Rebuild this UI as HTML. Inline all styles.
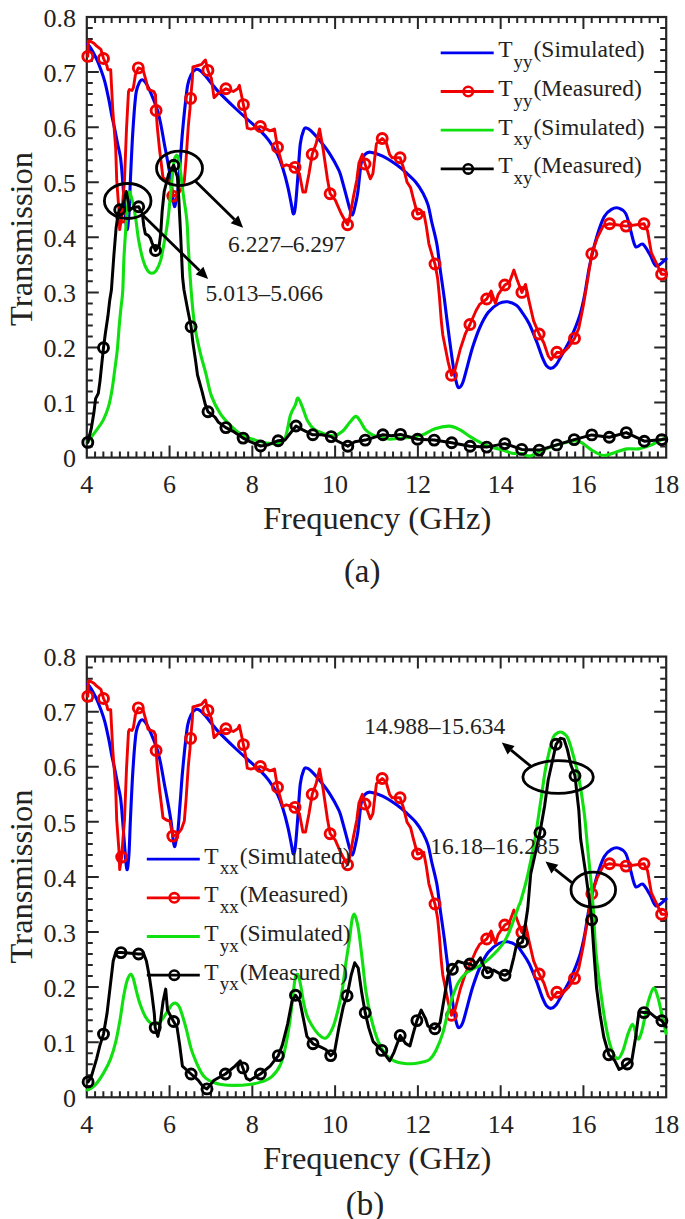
<!DOCTYPE html>
<html><head><meta charset="utf-8"><style>
html,body{margin:0;padding:0;background:#fff;}
svg{display:block;}
text{font-family:"Liberation Serif",serif;fill:#222;}
.tk{font-size:26px;}
.lab{font-size:32.5px;}
.lg{font-size:23.5px;}
.sb{font-size:19px;}
.an{font-size:23.5px;}
.cap{font-size:33px;}
</style></head><body>
<svg width="685" height="1219" viewBox="0 0 685 1219">
<rect width="685" height="1219" fill="#fff"/>
<rect x="86.8" y="17.0" width="579.4" height="440.6" fill="none" stroke="#262626" stroke-width="2.2"/>
<path d="M95.08 457.6v-6M95.08 17.0v6M103.35 457.6v-6M103.35 17.0v6M111.63 457.6v-6M111.63 17.0v6M119.91 457.6v-6M119.91 17.0v6M128.19 457.6v-6M128.19 17.0v6M136.46 457.6v-6M136.46 17.0v6M144.74 457.6v-6M144.74 17.0v6M153.02 457.6v-6M153.02 17.0v6M161.29 457.6v-6M161.29 17.0v6M169.57 457.6v-12M169.57 17.0v12M177.85 457.6v-6M177.85 17.0v6M186.13 457.6v-6M186.13 17.0v6M194.40 457.6v-6M194.40 17.0v6M202.68 457.6v-6M202.68 17.0v6M210.96 457.6v-6M210.96 17.0v6M219.23 457.6v-6M219.23 17.0v6M227.51 457.6v-6M227.51 17.0v6M235.79 457.6v-6M235.79 17.0v6M244.07 457.6v-6M244.07 17.0v6M252.34 457.6v-12M252.34 17.0v12M260.62 457.6v-6M260.62 17.0v6M268.90 457.6v-6M268.90 17.0v6M277.17 457.6v-6M277.17 17.0v6M285.45 457.6v-6M285.45 17.0v6M293.73 457.6v-6M293.73 17.0v6M302.01 457.6v-6M302.01 17.0v6M310.28 457.6v-6M310.28 17.0v6M318.56 457.6v-6M318.56 17.0v6M326.84 457.6v-6M326.84 17.0v6M335.11 457.6v-12M335.11 17.0v12M343.39 457.6v-6M343.39 17.0v6M351.67 457.6v-6M351.67 17.0v6M359.95 457.6v-6M359.95 17.0v6M368.22 457.6v-6M368.22 17.0v6M376.50 457.6v-6M376.50 17.0v6M384.78 457.6v-6M384.78 17.0v6M393.05 457.6v-6M393.05 17.0v6M401.33 457.6v-6M401.33 17.0v6M409.61 457.6v-6M409.61 17.0v6M417.89 457.6v-12M417.89 17.0v12M426.16 457.6v-6M426.16 17.0v6M434.44 457.6v-6M434.44 17.0v6M442.72 457.6v-6M442.72 17.0v6M450.99 457.6v-6M450.99 17.0v6M459.27 457.6v-6M459.27 17.0v6M467.55 457.6v-6M467.55 17.0v6M475.83 457.6v-6M475.83 17.0v6M484.10 457.6v-6M484.10 17.0v6M492.38 457.6v-6M492.38 17.0v6M500.66 457.6v-12M500.66 17.0v12M508.93 457.6v-6M508.93 17.0v6M517.21 457.6v-6M517.21 17.0v6M525.49 457.6v-6M525.49 17.0v6M533.77 457.6v-6M533.77 17.0v6M542.04 457.6v-6M542.04 17.0v6M550.32 457.6v-6M550.32 17.0v6M558.60 457.6v-6M558.60 17.0v6M566.87 457.6v-6M566.87 17.0v6M575.15 457.6v-6M575.15 17.0v6M583.43 457.6v-12M583.43 17.0v12M591.71 457.6v-6M591.71 17.0v6M599.98 457.6v-6M599.98 17.0v6M608.26 457.6v-6M608.26 17.0v6M616.54 457.6v-6M616.54 17.0v6M624.81 457.6v-6M624.81 17.0v6M633.09 457.6v-6M633.09 17.0v6M641.37 457.6v-6M641.37 17.0v6M649.65 457.6v-6M649.65 17.0v6M657.92 457.6v-6M657.92 17.0v6M86.8 446.59h6M666.2 446.59h-6M86.8 435.57h6M666.2 435.57h-6M86.8 424.56h6M666.2 424.56h-6M86.8 413.54h6M666.2 413.54h-6M86.8 402.53h12M666.2 402.53h-12M86.8 391.51h6M666.2 391.51h-6M86.8 380.50h6M666.2 380.50h-6M86.8 369.48h6M666.2 369.48h-6M86.8 358.47h6M666.2 358.47h-6M86.8 347.45h12M666.2 347.45h-12M86.8 336.44h6M666.2 336.44h-6M86.8 325.42h6M666.2 325.42h-6M86.8 314.41h6M666.2 314.41h-6M86.8 303.39h6M666.2 303.39h-6M86.8 292.38h12M666.2 292.38h-12M86.8 281.36h6M666.2 281.36h-6M86.8 270.35h6M666.2 270.35h-6M86.8 259.33h6M666.2 259.33h-6M86.8 248.32h6M666.2 248.32h-6M86.8 237.30h12M666.2 237.30h-12M86.8 226.29h6M666.2 226.29h-6M86.8 215.27h6M666.2 215.27h-6M86.8 204.26h6M666.2 204.26h-6M86.8 193.24h6M666.2 193.24h-6M86.8 182.23h12M666.2 182.23h-12M86.8 171.21h6M666.2 171.21h-6M86.8 160.19h6M666.2 160.19h-6M86.8 149.18h6M666.2 149.18h-6M86.8 138.17h6M666.2 138.17h-6M86.8 127.15h12M666.2 127.15h-12M86.8 116.13h6M666.2 116.13h-6M86.8 105.12h6M666.2 105.12h-6M86.8 94.10h6M666.2 94.10h-6M86.8 83.09h6M666.2 83.09h-6M86.8 72.07h12M666.2 72.07h-12M86.8 61.06h6M666.2 61.06h-6M86.8 50.05h6M666.2 50.05h-6M86.8 39.03h6M666.2 39.03h-6M86.8 28.02h6M666.2 28.02h-6" stroke="#262626" stroke-width="2" fill="none"/>
<text x="76" y="467.2" text-anchor="end" class="tk">0</text>
<text x="76" y="412.1" text-anchor="end" class="tk">0.1</text>
<text x="76" y="357.1" text-anchor="end" class="tk">0.2</text>
<text x="76" y="302.0" text-anchor="end" class="tk">0.3</text>
<text x="76" y="246.9" text-anchor="end" class="tk">0.4</text>
<text x="76" y="191.8" text-anchor="end" class="tk">0.5</text>
<text x="76" y="136.7" text-anchor="end" class="tk">0.6</text>
<text x="76" y="81.7" text-anchor="end" class="tk">0.7</text>
<text x="76" y="26.6" text-anchor="end" class="tk">0.8</text>
<text x="86.8" y="493.1" text-anchor="middle" class="tk">4</text>
<text x="169.6" y="493.1" text-anchor="middle" class="tk">6</text>
<text x="252.3" y="493.1" text-anchor="middle" class="tk">8</text>
<text x="335.1" y="493.1" text-anchor="middle" class="tk">10</text>
<text x="417.9" y="493.1" text-anchor="middle" class="tk">12</text>
<text x="500.7" y="493.1" text-anchor="middle" class="tk">14</text>
<text x="583.4" y="493.1" text-anchor="middle" class="tk">16</text>
<text x="666.2" y="493.1" text-anchor="middle" class="tk">18</text>
<text x="377.2" y="528.9" text-anchor="middle" class="lab">Frequency (GHz)</text>
<text transform="translate(31.5 238.9) rotate(-90)" x="0" y="0" text-anchor="middle" class="lab">Transmission</text>
<rect x="86.8" y="656.6" width="579.4" height="440.7" fill="none" stroke="#262626" stroke-width="2.2"/>
<path d="M95.08 1097.3v-6M95.08 656.6v6M103.35 1097.3v-6M103.35 656.6v6M111.63 1097.3v-6M111.63 656.6v6M119.91 1097.3v-6M119.91 656.6v6M128.19 1097.3v-6M128.19 656.6v6M136.46 1097.3v-6M136.46 656.6v6M144.74 1097.3v-6M144.74 656.6v6M153.02 1097.3v-6M153.02 656.6v6M161.29 1097.3v-6M161.29 656.6v6M169.57 1097.3v-12M169.57 656.6v12M177.85 1097.3v-6M177.85 656.6v6M186.13 1097.3v-6M186.13 656.6v6M194.40 1097.3v-6M194.40 656.6v6M202.68 1097.3v-6M202.68 656.6v6M210.96 1097.3v-6M210.96 656.6v6M219.23 1097.3v-6M219.23 656.6v6M227.51 1097.3v-6M227.51 656.6v6M235.79 1097.3v-6M235.79 656.6v6M244.07 1097.3v-6M244.07 656.6v6M252.34 1097.3v-12M252.34 656.6v12M260.62 1097.3v-6M260.62 656.6v6M268.90 1097.3v-6M268.90 656.6v6M277.17 1097.3v-6M277.17 656.6v6M285.45 1097.3v-6M285.45 656.6v6M293.73 1097.3v-6M293.73 656.6v6M302.01 1097.3v-6M302.01 656.6v6M310.28 1097.3v-6M310.28 656.6v6M318.56 1097.3v-6M318.56 656.6v6M326.84 1097.3v-6M326.84 656.6v6M335.11 1097.3v-12M335.11 656.6v12M343.39 1097.3v-6M343.39 656.6v6M351.67 1097.3v-6M351.67 656.6v6M359.95 1097.3v-6M359.95 656.6v6M368.22 1097.3v-6M368.22 656.6v6M376.50 1097.3v-6M376.50 656.6v6M384.78 1097.3v-6M384.78 656.6v6M393.05 1097.3v-6M393.05 656.6v6M401.33 1097.3v-6M401.33 656.6v6M409.61 1097.3v-6M409.61 656.6v6M417.89 1097.3v-12M417.89 656.6v12M426.16 1097.3v-6M426.16 656.6v6M434.44 1097.3v-6M434.44 656.6v6M442.72 1097.3v-6M442.72 656.6v6M450.99 1097.3v-6M450.99 656.6v6M459.27 1097.3v-6M459.27 656.6v6M467.55 1097.3v-6M467.55 656.6v6M475.83 1097.3v-6M475.83 656.6v6M484.10 1097.3v-6M484.10 656.6v6M492.38 1097.3v-6M492.38 656.6v6M500.66 1097.3v-12M500.66 656.6v12M508.93 1097.3v-6M508.93 656.6v6M517.21 1097.3v-6M517.21 656.6v6M525.49 1097.3v-6M525.49 656.6v6M533.77 1097.3v-6M533.77 656.6v6M542.04 1097.3v-6M542.04 656.6v6M550.32 1097.3v-6M550.32 656.6v6M558.60 1097.3v-6M558.60 656.6v6M566.87 1097.3v-6M566.87 656.6v6M575.15 1097.3v-6M575.15 656.6v6M583.43 1097.3v-12M583.43 656.6v12M591.71 1097.3v-6M591.71 656.6v6M599.98 1097.3v-6M599.98 656.6v6M608.26 1097.3v-6M608.26 656.6v6M616.54 1097.3v-6M616.54 656.6v6M624.81 1097.3v-6M624.81 656.6v6M633.09 1097.3v-6M633.09 656.6v6M641.37 1097.3v-6M641.37 656.6v6M649.65 1097.3v-6M649.65 656.6v6M657.92 1097.3v-6M657.92 656.6v6M86.8 1086.28h6M666.2 1086.28h-6M86.8 1075.26h6M666.2 1075.26h-6M86.8 1064.25h6M666.2 1064.25h-6M86.8 1053.23h6M666.2 1053.23h-6M86.8 1042.21h12M666.2 1042.21h-12M86.8 1031.19h6M666.2 1031.19h-6M86.8 1020.18h6M666.2 1020.18h-6M86.8 1009.16h6M666.2 1009.16h-6M86.8 998.14h6M666.2 998.14h-6M86.8 987.12h12M666.2 987.12h-12M86.8 976.11h6M666.2 976.11h-6M86.8 965.09h6M666.2 965.09h-6M86.8 954.07h6M666.2 954.07h-6M86.8 943.05h6M666.2 943.05h-6M86.8 932.04h12M666.2 932.04h-12M86.8 921.02h6M666.2 921.02h-6M86.8 910.00h6M666.2 910.00h-6M86.8 898.99h6M666.2 898.99h-6M86.8 887.97h6M666.2 887.97h-6M86.8 876.95h12M666.2 876.95h-12M86.8 865.93h6M666.2 865.93h-6M86.8 854.91h6M666.2 854.91h-6M86.8 843.90h6M666.2 843.90h-6M86.8 832.88h6M666.2 832.88h-6M86.8 821.86h12M666.2 821.86h-12M86.8 810.85h6M666.2 810.85h-6M86.8 799.83h6M666.2 799.83h-6M86.8 788.81h6M666.2 788.81h-6M86.8 777.79h6M666.2 777.79h-6M86.8 766.78h12M666.2 766.78h-12M86.8 755.76h6M666.2 755.76h-6M86.8 744.74h6M666.2 744.74h-6M86.8 733.72h6M666.2 733.72h-6M86.8 722.70h6M666.2 722.70h-6M86.8 711.69h12M666.2 711.69h-12M86.8 700.67h6M666.2 700.67h-6M86.8 689.65h6M666.2 689.65h-6M86.8 678.63h6M666.2 678.63h-6M86.8 667.62h6M666.2 667.62h-6" stroke="#262626" stroke-width="2" fill="none"/>
<text x="76" y="1106.9" text-anchor="end" class="tk">0</text>
<text x="76" y="1051.8" text-anchor="end" class="tk">0.1</text>
<text x="76" y="996.7" text-anchor="end" class="tk">0.2</text>
<text x="76" y="941.6" text-anchor="end" class="tk">0.3</text>
<text x="76" y="886.6" text-anchor="end" class="tk">0.4</text>
<text x="76" y="831.5" text-anchor="end" class="tk">0.5</text>
<text x="76" y="776.4" text-anchor="end" class="tk">0.6</text>
<text x="76" y="721.3" text-anchor="end" class="tk">0.7</text>
<text x="76" y="666.2" text-anchor="end" class="tk">0.8</text>
<text x="86.8" y="1132.8" text-anchor="middle" class="tk">4</text>
<text x="169.6" y="1132.8" text-anchor="middle" class="tk">6</text>
<text x="252.3" y="1132.8" text-anchor="middle" class="tk">8</text>
<text x="335.1" y="1132.8" text-anchor="middle" class="tk">10</text>
<text x="417.9" y="1132.8" text-anchor="middle" class="tk">12</text>
<text x="500.7" y="1132.8" text-anchor="middle" class="tk">14</text>
<text x="583.4" y="1132.8" text-anchor="middle" class="tk">16</text>
<text x="666.2" y="1132.8" text-anchor="middle" class="tk">18</text>
<text x="377.2" y="1168.6" text-anchor="middle" class="lab">Frequency (GHz)</text>
<text transform="translate(31.5 876.4) rotate(-90)" x="0" y="0" text-anchor="middle" class="lab">Transmission</text>
<path d="M87.5 44.0C87.8 44.3 88.3 44.6 89.2 45.9C90.1 47.2 91.7 49.6 93.0 52.0C94.3 54.4 95.7 57.0 97.0 60.0C98.3 63.0 99.6 66.2 100.9 69.8C102.2 73.4 103.5 76.8 104.8 81.7C106.1 86.6 107.6 93.8 108.8 99.4C110.0 105.0 110.7 110.2 111.7 115.1C112.7 120.0 113.7 124.1 114.7 128.9C115.7 133.7 116.6 138.8 117.6 143.7C118.6 148.6 119.8 152.3 120.6 158.4C121.4 164.5 121.9 171.4 122.6 180.0C123.3 188.6 124.2 201.7 124.9 210.0C125.6 218.3 126.2 228.8 126.9 229.6C127.6 230.4 128.3 223.3 128.9 215.0C129.5 206.7 129.8 192.7 130.4 180.0C131.0 167.3 131.7 150.5 132.4 138.7C133.1 126.9 133.8 117.1 134.4 109.2C135.1 101.3 135.5 95.9 136.3 91.5C137.1 87.1 138.3 84.6 139.3 82.6C140.3 80.6 141.1 79.7 142.2 79.7C143.2 79.7 144.5 81.2 145.6 82.7C146.7 84.2 147.7 86.0 149.0 88.8C150.3 91.6 151.9 95.5 153.4 99.3C154.9 103.1 156.6 107.5 157.8 111.6C159.0 115.7 159.7 118.7 160.7 123.7C161.7 128.8 163.1 136.7 164.0 141.9C164.9 147.1 165.2 148.2 166.4 154.7C167.6 161.2 169.9 173.4 171.0 181.0C172.1 188.6 172.6 195.7 173.2 200.0C173.8 204.3 174.0 206.4 174.5 206.6C175.0 206.8 175.4 203.6 176.0 201.0C176.6 198.4 177.2 197.5 177.9 191.0C178.6 184.5 179.4 171.8 180.2 162.0C181.0 152.2 181.6 141.8 182.5 132.0C183.4 122.2 184.5 110.8 185.4 103.0C186.3 95.2 186.8 89.7 187.7 85.0C188.6 80.3 189.8 77.4 191.1 74.8C192.4 72.2 194.0 70.3 195.5 69.6C197.0 68.9 198.2 69.2 199.9 70.4C201.7 71.6 203.1 73.2 206.0 76.6C208.9 80.0 212.7 85.4 217.5 90.6C222.3 95.8 229.2 102.5 235.0 108.0C240.8 113.5 248.4 120.2 252.6 123.9C256.8 127.7 257.3 127.8 260.0 130.5C262.7 133.2 265.9 136.3 268.8 140.3C271.7 144.3 275.2 149.6 277.5 154.3C279.8 159.0 281.1 162.8 282.8 168.3C284.6 173.9 286.6 181.5 288.0 187.6C289.4 193.7 290.6 200.7 291.5 205.1C292.4 209.5 292.7 213.6 293.3 213.9C293.9 214.2 294.6 212.8 295.3 207.0C296.0 201.2 296.9 189.3 297.7 178.8C298.5 168.3 299.3 152.0 300.3 143.8C301.3 135.6 302.8 132.4 303.8 129.8C304.8 127.2 305.2 127.9 306.4 128.0C307.6 128.2 308.6 128.6 310.8 130.7C313.0 132.8 316.4 136.4 319.6 140.3C322.8 144.2 326.9 149.3 330.1 154.3C333.3 159.3 336.8 165.8 338.8 170.1C340.8 174.4 340.8 175.7 342.0 180.0C343.2 184.3 345.0 191.0 346.3 195.8C347.6 200.6 348.8 205.7 349.8 208.9C350.8 212.1 351.5 215.4 352.4 215.0C353.3 214.6 354.1 210.0 355.0 206.3C355.9 202.7 357.0 197.8 357.7 193.1C358.4 188.4 358.8 183.3 359.4 178.0C360.0 172.7 360.6 165.2 361.5 161.3C362.4 157.4 363.5 155.8 365.0 154.3C366.5 152.8 367.4 151.9 370.3 152.2C373.2 152.5 378.2 154.0 382.6 156.1C387.0 158.2 392.5 161.9 396.6 164.8C400.7 167.7 403.9 170.7 407.1 173.6C410.3 176.5 413.2 179.1 415.8 182.3C418.4 185.5 420.8 189.1 422.9 192.9C424.9 196.7 426.7 200.4 428.1 205.1C429.5 209.8 430.1 214.6 431.5 221.0C432.9 227.4 435.3 235.6 436.8 243.8C438.3 252.0 439.0 260.7 440.3 270.1C441.6 279.5 443.1 289.2 444.5 300.0C445.9 310.8 447.4 323.9 448.9 335.0C450.4 346.1 452.0 358.4 453.3 366.6C454.6 374.8 455.8 380.6 456.8 384.1C457.8 387.6 458.4 387.9 459.4 387.6C460.4 387.3 461.6 385.8 462.9 382.3C464.2 378.8 465.7 372.4 467.3 366.6C468.9 360.8 470.6 353.7 472.6 347.3C474.7 340.9 477.0 333.8 479.6 328.0C482.2 322.2 485.1 316.4 488.3 312.3C491.5 308.2 495.6 305.2 498.8 303.5C502.0 301.8 504.7 301.5 507.6 301.8C510.5 302.1 514.0 303.6 516.4 305.3C518.8 307.0 519.8 309.0 521.9 312.1C524.0 315.2 526.8 318.9 529.2 323.8C531.6 328.7 534.3 335.7 536.5 341.3C538.7 346.9 540.6 353.3 542.3 357.4C544.0 361.5 545.2 364.3 546.7 366.1C548.2 367.9 549.5 368.5 551.1 368.3C552.7 368.1 554.5 366.8 556.2 364.7C557.9 362.6 559.2 359.5 561.3 355.9C563.4 352.2 566.4 347.2 568.6 342.8C570.8 338.4 572.5 334.5 574.5 329.6C576.5 324.7 578.6 319.4 580.3 313.6C582.0 307.8 583.1 302.8 584.7 294.6C586.3 286.5 587.7 274.5 589.8 264.7C591.9 254.9 594.7 243.8 597.1 235.8C599.5 227.8 601.9 220.9 604.3 216.5C606.7 212.1 609.1 210.7 611.5 209.3C613.9 207.9 616.3 207.3 618.7 208.1C621.1 208.9 624.0 210.3 626.0 214.1C628.0 217.9 629.2 225.6 630.8 231.0C632.4 236.4 633.6 244.4 635.6 246.6C637.6 248.8 640.4 242.8 642.8 244.2C645.2 245.6 647.9 251.4 650.1 255.0C652.3 258.6 653.5 265.2 656.1 265.9C658.8 266.6 664.4 260.1 666.0 259.0" fill="none" stroke="#0000f0" stroke-width="3.1" stroke-linejoin="round" stroke-linecap="round"/>
<polyline points="87.8,56.4 88.3,41.0 89.5,40.7 93.9,43.3 96.5,45.9 100.9,49.4 103.5,58.5 107.0,65.9 107.8,69.8 110.7,69.8 111.7,89.5 112.7,109.2 114.2,128.9 115.7,148.6 116.7,180.0 119.0,211.2 119.7,229.6 121.7,217.1 123.0,198.1 124.5,180.0 126.5,128.9 128.5,91.5 129.4,89.5 131.9,90.5 133.4,87.6 135.4,74.8 138.3,67.9 143.0,69.6 146.4,81.8 148.0,89.2 153.8,91.5 155.5,95.0 156.1,110.5 157.2,126.0 159.5,149.0 163.0,177.7 166.4,180.0 169.9,181.1 172.8,196.1 177.9,193.8 181.4,189.2 184.3,181.1 186.0,160.5 188.3,126.0 190.0,108.7 190.6,98.4 192.3,80.0 192.9,66.9 196.4,66.0 201.6,64.3 204.4,60.8 205.5,60.0 207.9,70.4 211.4,78.3 214.0,97.6 217.5,94.1 225.9,88.8 233.3,91.5 237.7,88.8 239.4,85.3 243.4,104.6 245.5,115.1 247.3,128.2 250.8,129.1 260.4,126.5 266.6,129.1 270.0,130.9 274.5,129.1 277.5,147.3 282.8,166.6 286.3,164.8 295.0,167.4 299.4,173.6 302.9,192.0 305.5,192.0 309.0,173.6 312.2,154.3 316.1,143.8 319.6,128.9 323.1,149.0 327.4,178.8 330.1,193.7 335.3,200.1 341.0,213.3 345.4,221.2 347.6,224.7 349.8,216.8 353.3,197.5 356.8,180.0 358.9,163.1 362.4,154.3 365.0,164.0 370.3,178.8 372.9,173.6 376.4,143.8 382.2,138.5 386.1,142.0 389.6,154.3 392.2,157.8 400.1,157.8 403.6,168.3 407.1,182.3 410.6,187.6 413.2,198.1 417.5,214.0 423.7,212.3 426.3,226.3 428.9,243.8 432.4,256.1 435.0,264.0 437.7,278.8 439.4,296.4 441.2,320.0 442.8,335.0 448.0,361.3 451.5,375.3 455.0,370.0 460.3,349.0 465.5,333.3 469.9,324.5 476.1,310.5 479.6,304.4 486.7,299.0 491.1,291.1 495.5,303.4 498.1,294.6 504.8,285.0 509.5,282.3 513.9,270.1 517.4,280.6 521.9,292.4 525.5,284.4 529.2,301.9 533.6,320.9 539.1,334.0 543.8,342.8 548.2,355.9 551.1,359.6 556.9,352.3 562.8,353.0 568.6,347.2 574.5,338.4 578.8,328.2 583.2,306.3 587.6,280.0 591.8,253.8 597.1,238.2 603.1,226.1 609.6,223.7 626.0,226.1 644.0,223.7 647.6,231.0 651.3,252.6 661.6,274.3 666.0,274.3" fill="none" stroke="#f00000" stroke-width="2.9" stroke-linejoin="round" stroke-linecap="round"/>
<circle cx="87.8" cy="56.4" r="5.0" fill="none" stroke="#f00000" stroke-width="2.9"/>
<circle cx="103.5" cy="58.5" r="5.0" fill="none" stroke="#f00000" stroke-width="2.9"/>
<circle cx="121.7" cy="217.1" r="5.0" fill="none" stroke="#f00000" stroke-width="2.9"/>
<circle cx="138.3" cy="67.9" r="5.0" fill="none" stroke="#f00000" stroke-width="2.9"/>
<circle cx="156.1" cy="110.5" r="5.0" fill="none" stroke="#f00000" stroke-width="2.9"/>
<circle cx="172.8" cy="196.1" r="5.0" fill="none" stroke="#f00000" stroke-width="2.9"/>
<circle cx="190.6" cy="98.4" r="5.0" fill="none" stroke="#f00000" stroke-width="2.9"/>
<circle cx="207.9" cy="70.4" r="5.0" fill="none" stroke="#f00000" stroke-width="2.9"/>
<circle cx="225.9" cy="88.8" r="5.0" fill="none" stroke="#f00000" stroke-width="2.9"/>
<circle cx="243.4" cy="104.6" r="5.0" fill="none" stroke="#f00000" stroke-width="2.9"/>
<circle cx="260.4" cy="126.5" r="5.0" fill="none" stroke="#f00000" stroke-width="2.9"/>
<circle cx="277.5" cy="147.3" r="5.0" fill="none" stroke="#f00000" stroke-width="2.9"/>
<circle cx="295.0" cy="167.4" r="5.0" fill="none" stroke="#f00000" stroke-width="2.9"/>
<circle cx="312.2" cy="154.3" r="5.0" fill="none" stroke="#f00000" stroke-width="2.9"/>
<circle cx="330.1" cy="193.7" r="5.0" fill="none" stroke="#f00000" stroke-width="2.9"/>
<circle cx="347.6" cy="224.7" r="5.0" fill="none" stroke="#f00000" stroke-width="2.9"/>
<circle cx="365.0" cy="164.0" r="5.0" fill="none" stroke="#f00000" stroke-width="2.9"/>
<circle cx="382.2" cy="138.5" r="5.0" fill="none" stroke="#f00000" stroke-width="2.9"/>
<circle cx="400.1" cy="157.8" r="5.0" fill="none" stroke="#f00000" stroke-width="2.9"/>
<circle cx="417.5" cy="214.0" r="5.0" fill="none" stroke="#f00000" stroke-width="2.9"/>
<circle cx="435.0" cy="264.0" r="5.0" fill="none" stroke="#f00000" stroke-width="2.9"/>
<circle cx="451.5" cy="375.3" r="5.0" fill="none" stroke="#f00000" stroke-width="2.9"/>
<circle cx="469.9" cy="324.5" r="5.0" fill="none" stroke="#f00000" stroke-width="2.9"/>
<circle cx="486.7" cy="299.0" r="5.0" fill="none" stroke="#f00000" stroke-width="2.9"/>
<circle cx="504.8" cy="285.0" r="5.0" fill="none" stroke="#f00000" stroke-width="2.9"/>
<circle cx="521.9" cy="292.4" r="5.0" fill="none" stroke="#f00000" stroke-width="2.9"/>
<circle cx="539.1" cy="334.0" r="5.0" fill="none" stroke="#f00000" stroke-width="2.9"/>
<circle cx="556.9" cy="352.3" r="5.0" fill="none" stroke="#f00000" stroke-width="2.9"/>
<circle cx="574.5" cy="338.4" r="5.0" fill="none" stroke="#f00000" stroke-width="2.9"/>
<circle cx="591.8" cy="253.8" r="5.0" fill="none" stroke="#f00000" stroke-width="2.9"/>
<circle cx="609.6" cy="223.7" r="5.0" fill="none" stroke="#f00000" stroke-width="2.9"/>
<circle cx="626.0" cy="226.1" r="5.0" fill="none" stroke="#f00000" stroke-width="2.9"/>
<circle cx="644.0" cy="223.7" r="5.0" fill="none" stroke="#f00000" stroke-width="2.9"/>
<circle cx="661.6" cy="274.3" r="5.0" fill="none" stroke="#f00000" stroke-width="2.9"/>
<path d="M87.5 442.0C87.7 441.8 87.1 442.7 88.6 440.7C90.1 438.7 94.0 433.7 96.5 430.2C99.0 426.7 101.5 423.7 103.5 419.6C105.5 415.5 107.3 410.9 108.8 405.6C110.3 400.4 111.3 394.2 112.3 388.1C113.3 382.0 114.0 375.5 114.9 368.8C115.8 362.1 116.8 355.1 117.5 347.8C118.2 340.5 118.7 331.7 119.3 325.0C119.9 318.3 120.4 313.3 121.0 307.5C121.6 301.7 122.3 298.8 122.8 290.0C123.3 281.2 123.4 267.8 124.1 255.0C124.8 242.2 126.2 223.7 127.0 213.4C127.8 203.1 128.5 195.9 129.2 193.0C129.9 190.1 130.3 193.8 131.0 196.0C131.7 198.2 132.8 202.2 133.6 206.1C134.4 210.0 134.9 213.4 135.8 219.2C136.7 225.0 137.6 234.3 138.8 241.1C140.0 247.9 141.7 255.2 143.1 260.1C144.5 265.0 146.0 268.1 147.5 270.3C149.0 272.5 150.4 273.2 151.9 273.2C153.4 273.2 154.8 272.5 156.3 270.3C157.8 268.1 159.2 265.5 160.7 260.1C162.1 254.8 163.8 245.0 165.0 238.2C166.2 231.4 167.0 227.2 168.0 219.2C169.0 211.2 170.1 199.0 171.0 190.0C171.9 181.0 172.8 170.5 173.5 165.0C174.2 159.5 174.7 158.2 175.4 156.8C176.2 155.4 177.1 154.2 178.0 156.8C178.9 159.4 179.7 166.2 180.6 172.5C181.5 178.8 182.3 186.5 183.3 194.4C184.3 202.3 186.0 211.0 186.8 220.0C187.7 229.0 187.7 236.7 188.4 248.4C189.1 260.1 190.1 277.2 191.1 290.0C192.1 302.8 193.1 314.8 194.6 325.0C196.1 335.2 198.0 343.1 199.9 351.3C201.8 359.5 204.1 366.6 206.0 374.1C207.9 381.6 209.1 389.5 211.5 396.1C213.9 402.7 217.1 408.7 220.3 413.6C223.5 418.6 227.3 422.3 230.8 425.8C234.3 429.3 237.8 432.4 241.3 434.6C244.8 436.8 248.6 437.8 251.8 439.0C255.0 440.2 257.7 440.9 260.6 441.6C263.5 442.3 266.4 443.1 269.3 443.4C272.2 443.7 275.5 444.3 278.1 443.4C280.7 442.5 283.1 442.8 285.1 438.1C287.2 433.4 288.7 420.8 290.4 415.3C292.1 409.8 294.1 407.9 295.3 405.0C296.6 402.1 296.7 397.7 297.9 398.0C299.1 398.3 300.7 403.0 302.3 406.8C303.9 410.6 305.5 417.0 307.5 420.8C309.5 424.6 311.6 427.4 314.5 429.6C317.4 431.8 321.8 433.0 325.0 434.0C328.2 435.0 330.9 436.1 333.8 435.7C336.7 435.2 340.0 433.5 342.6 431.3C345.2 429.1 347.4 425.1 349.6 422.6C351.8 420.1 353.9 416.7 355.7 416.4C357.4 416.1 358.5 418.6 360.1 420.8C361.7 423.0 363.3 427.3 365.3 429.6C367.3 431.9 369.7 433.5 372.3 434.8C374.9 436.1 378.2 436.7 381.1 437.4C384.0 438.1 387.0 439.0 389.9 439.2C392.8 439.4 395.2 438.6 398.6 438.3C402.0 438.0 406.5 438.0 410.5 437.4C414.5 436.8 418.7 436.2 422.8 434.8C426.9 433.4 430.6 430.1 435.0 428.7C439.4 427.2 444.9 426.0 449.0 426.1C453.1 426.2 456.1 427.9 459.6 429.6C463.1 431.4 466.6 434.4 470.1 436.6C473.6 438.8 477.1 440.9 480.6 442.7C484.1 444.4 487.6 445.9 491.1 447.1C494.6 448.3 498.1 448.7 501.6 449.7C505.1 450.7 508.8 452.5 512.1 453.2C515.5 453.9 518.7 453.1 521.7 453.6C524.7 454.1 526.8 456.4 529.9 456.0C533.0 455.6 536.7 452.8 540.4 451.2C544.1 449.6 548.1 448.0 552.0 446.6C555.9 445.2 559.8 444.1 563.7 443.1C567.6 442.1 572.3 440.7 575.4 440.7C578.5 440.7 579.7 441.5 582.4 443.1C585.1 444.7 588.3 448.0 591.8 450.1C595.3 452.2 599.5 455.1 603.4 455.5C607.3 455.9 611.2 453.5 615.1 452.4C619.0 451.3 622.9 449.5 626.8 448.9C630.7 448.3 634.6 449.5 638.5 448.9C642.4 448.3 646.3 446.9 650.2 445.4C654.1 443.8 659.2 440.8 661.8 439.6C664.4 438.4 665.3 438.3 666.0 438.0" fill="none" stroke="#10e010" stroke-width="3.1" stroke-linejoin="round" stroke-linecap="round"/>
<polyline points="87.8,442.4 91.3,428.4 93.9,412.6 95.6,398.6 98.3,393.4 100.0,381.1 101.8,363.6 103.5,347.8 105.3,333.8 107.9,316.3 109.7,300.5 111.4,290.0 113.9,255.0 116.1,228.0 118.2,213.4 119.7,209.7 123.4,203.2 126.3,191.5 128.5,203.2 129.2,210.5 132.8,207.6 138.7,206.8 142.3,213.4 143.9,226.5 145.3,233.8 148.2,235.3 150.4,238.2 151.9,242.6 155.5,250.5 159.2,245.5 160.7,233.8 162.1,211.9 164.2,191.5 168.6,174.0 173.7,165.2 177.4,176.9 178.8,198.8 180.4,230.0 182.6,277.6 184.0,290.0 187.6,309.3 191.1,326.8 192.9,342.6 195.5,360.1 197.5,375.0 201.9,390.8 205.4,404.8 208.0,411.8 215.0,417.1 218.5,422.3 225.9,427.6 232.6,431.1 243.1,438.1 250.1,441.6 260.6,446.0 267.6,445.1 278.1,440.7 285.1,439.9 296.0,426.0 302.3,429.6 312.8,434.8 321.5,434.8 331.2,436.6 337.3,441.0 347.8,446.2 354.8,441.8 365.3,440.1 374.1,437.4 382.9,434.8 391.6,435.7 400.5,434.4 417.5,439.2 434.2,440.1 451.7,442.7 470.1,446.2 486.7,447.1 504.8,443.6 521.7,449.4 539.2,450.1 556.7,444.9 574.2,439.6 591.8,434.9 609.3,437.2 626.3,432.6 644.3,441.2 661.8,439.6 666.0,439.0" fill="none" stroke="#000000" stroke-width="3.0" stroke-linejoin="round" stroke-linecap="round"/>
<circle cx="87.8" cy="442.4" r="5.0" fill="none" stroke="#000000" stroke-width="2.9"/>
<circle cx="103.5" cy="347.8" r="5.0" fill="none" stroke="#000000" stroke-width="2.9"/>
<circle cx="119.7" cy="209.7" r="5.0" fill="none" stroke="#000000" stroke-width="2.9"/>
<circle cx="138.7" cy="206.8" r="5.0" fill="none" stroke="#000000" stroke-width="2.9"/>
<circle cx="155.5" cy="250.5" r="5.0" fill="none" stroke="#000000" stroke-width="2.9"/>
<circle cx="173.7" cy="165.2" r="5.0" fill="none" stroke="#000000" stroke-width="2.9"/>
<circle cx="191.1" cy="326.8" r="5.0" fill="none" stroke="#000000" stroke-width="2.9"/>
<circle cx="208.0" cy="411.8" r="5.0" fill="none" stroke="#000000" stroke-width="2.9"/>
<circle cx="225.9" cy="427.6" r="5.0" fill="none" stroke="#000000" stroke-width="2.9"/>
<circle cx="243.1" cy="438.1" r="5.0" fill="none" stroke="#000000" stroke-width="2.9"/>
<circle cx="260.6" cy="446.0" r="5.0" fill="none" stroke="#000000" stroke-width="2.9"/>
<circle cx="278.1" cy="440.7" r="5.0" fill="none" stroke="#000000" stroke-width="2.9"/>
<circle cx="296.0" cy="426.0" r="5.0" fill="none" stroke="#000000" stroke-width="2.9"/>
<circle cx="312.8" cy="434.8" r="5.0" fill="none" stroke="#000000" stroke-width="2.9"/>
<circle cx="331.2" cy="436.6" r="5.0" fill="none" stroke="#000000" stroke-width="2.9"/>
<circle cx="347.8" cy="446.2" r="5.0" fill="none" stroke="#000000" stroke-width="2.9"/>
<circle cx="365.3" cy="440.1" r="5.0" fill="none" stroke="#000000" stroke-width="2.9"/>
<circle cx="382.9" cy="434.8" r="5.0" fill="none" stroke="#000000" stroke-width="2.9"/>
<circle cx="400.5" cy="434.4" r="5.0" fill="none" stroke="#000000" stroke-width="2.9"/>
<circle cx="417.5" cy="439.2" r="5.0" fill="none" stroke="#000000" stroke-width="2.9"/>
<circle cx="434.2" cy="440.1" r="5.0" fill="none" stroke="#000000" stroke-width="2.9"/>
<circle cx="451.7" cy="442.7" r="5.0" fill="none" stroke="#000000" stroke-width="2.9"/>
<circle cx="470.1" cy="446.2" r="5.0" fill="none" stroke="#000000" stroke-width="2.9"/>
<circle cx="486.7" cy="447.1" r="5.0" fill="none" stroke="#000000" stroke-width="2.9"/>
<circle cx="504.8" cy="443.6" r="5.0" fill="none" stroke="#000000" stroke-width="2.9"/>
<circle cx="521.7" cy="449.4" r="5.0" fill="none" stroke="#000000" stroke-width="2.9"/>
<circle cx="539.2" cy="450.1" r="5.0" fill="none" stroke="#000000" stroke-width="2.9"/>
<circle cx="556.7" cy="444.9" r="5.0" fill="none" stroke="#000000" stroke-width="2.9"/>
<circle cx="574.2" cy="439.6" r="5.0" fill="none" stroke="#000000" stroke-width="2.9"/>
<circle cx="591.8" cy="434.9" r="5.0" fill="none" stroke="#000000" stroke-width="2.9"/>
<circle cx="609.3" cy="437.2" r="5.0" fill="none" stroke="#000000" stroke-width="2.9"/>
<circle cx="626.3" cy="432.6" r="5.0" fill="none" stroke="#000000" stroke-width="2.9"/>
<circle cx="644.3" cy="441.2" r="5.0" fill="none" stroke="#000000" stroke-width="2.9"/>
<circle cx="661.8" cy="439.6" r="5.0" fill="none" stroke="#000000" stroke-width="2.9"/>
<path d="M87.5 684.0C87.8 684.3 88.3 684.6 89.2 685.9C90.1 687.2 91.7 689.6 93.0 692.0C94.3 694.4 95.7 697.0 97.0 700.0C98.3 703.0 99.6 706.2 100.9 709.8C102.2 713.4 103.5 716.8 104.8 721.7C106.1 726.6 107.6 733.8 108.8 739.4C110.0 745.0 110.7 750.2 111.7 755.1C112.7 760.0 113.7 764.1 114.7 768.9C115.7 773.7 116.6 778.8 117.6 783.7C118.6 788.6 119.8 792.4 120.6 798.4C121.4 804.4 121.9 811.4 122.6 820.0C123.3 828.6 124.2 841.7 124.9 850.0C125.6 858.3 126.2 868.8 126.9 869.6C127.6 870.4 128.3 863.3 128.9 855.0C129.5 846.7 129.8 832.7 130.4 820.0C131.0 807.3 131.7 790.5 132.4 778.7C133.1 766.9 133.8 757.1 134.4 749.2C135.1 741.3 135.5 735.9 136.3 731.5C137.1 727.1 138.3 724.6 139.3 722.6C140.3 720.6 141.1 719.7 142.2 719.7C143.2 719.7 144.5 721.2 145.6 722.7C146.7 724.2 147.7 726.0 149.0 728.8C150.3 731.6 151.9 735.5 153.4 739.3C154.9 743.1 156.6 747.5 157.8 751.6C159.0 755.7 159.7 758.7 160.7 763.7C161.7 768.8 163.1 776.7 164.0 781.9C164.9 787.1 165.2 788.2 166.4 794.7C167.6 801.2 169.9 813.5 171.0 821.0C172.1 828.5 172.6 835.7 173.2 840.0C173.8 844.3 174.0 846.4 174.5 846.6C175.0 846.8 175.4 843.6 176.0 841.0C176.6 838.4 177.2 837.5 177.9 831.0C178.6 824.5 179.4 811.8 180.2 802.0C181.0 792.2 181.6 781.8 182.5 772.0C183.4 762.2 184.5 750.8 185.4 743.0C186.3 735.2 186.8 729.7 187.7 725.0C188.6 720.3 189.8 717.4 191.1 714.8C192.4 712.2 194.0 710.3 195.5 709.6C197.0 708.9 198.2 709.2 199.9 710.4C201.7 711.6 203.1 713.2 206.0 716.6C208.9 720.0 212.7 725.4 217.5 730.6C222.3 735.8 229.2 742.5 235.0 748.0C240.8 753.5 248.4 760.1 252.6 763.9C256.8 767.6 257.3 767.8 260.0 770.5C262.7 773.2 265.9 776.3 268.8 780.3C271.7 784.3 275.2 789.6 277.5 794.3C279.8 799.0 281.1 802.8 282.8 808.3C284.6 813.8 286.6 821.5 288.0 827.6C289.4 833.7 290.6 840.7 291.5 845.1C292.4 849.5 292.7 853.6 293.3 853.9C293.9 854.2 294.6 852.9 295.3 847.0C296.0 841.1 296.9 829.3 297.7 818.8C298.5 808.3 299.3 792.0 300.3 783.8C301.3 775.6 302.8 772.4 303.8 769.8C304.8 767.2 305.2 767.9 306.4 768.0C307.6 768.1 308.6 768.7 310.8 770.7C313.0 772.8 316.4 776.4 319.6 780.3C322.8 784.2 326.9 789.3 330.1 794.3C333.3 799.3 336.8 805.8 338.8 810.1C340.8 814.4 340.8 815.7 342.0 820.0C343.2 824.3 345.0 831.0 346.3 835.8C347.6 840.6 348.8 845.7 349.8 848.9C350.8 852.1 351.5 855.4 352.4 855.0C353.3 854.6 354.1 849.9 355.0 846.3C355.9 842.6 357.0 837.8 357.7 833.1C358.4 828.4 358.8 823.3 359.4 818.0C360.0 812.7 360.6 805.2 361.5 801.3C362.4 797.3 363.5 795.8 365.0 794.3C366.5 792.8 367.4 791.9 370.3 792.2C373.2 792.5 378.2 794.0 382.6 796.1C387.0 798.2 392.5 801.9 396.6 804.8C400.7 807.7 403.9 810.7 407.1 813.6C410.3 816.5 413.2 819.1 415.8 822.3C418.4 825.5 420.8 829.1 422.9 832.9C424.9 836.7 426.7 840.4 428.1 845.1C429.5 849.8 430.1 854.5 431.5 861.0C432.9 867.5 435.3 875.6 436.8 883.8C438.3 892.0 439.0 900.7 440.3 910.1C441.6 919.5 443.1 929.2 444.5 940.0C445.9 950.8 447.4 963.9 448.9 975.0C450.4 986.1 452.0 998.4 453.3 1006.6C454.6 1014.8 455.8 1020.6 456.8 1024.1C457.8 1027.6 458.4 1027.9 459.4 1027.6C460.4 1027.3 461.6 1025.8 462.9 1022.3C464.2 1018.8 465.7 1012.4 467.3 1006.6C468.9 1000.8 470.6 993.7 472.6 987.3C474.7 980.9 477.0 973.8 479.6 968.0C482.2 962.2 485.1 956.4 488.3 952.3C491.5 948.2 495.6 945.2 498.8 943.5C502.0 941.8 504.7 941.5 507.6 941.8C510.5 942.1 514.0 943.6 516.4 945.3C518.8 947.0 519.8 949.0 521.9 952.1C524.0 955.2 526.8 958.9 529.2 963.8C531.6 968.7 534.3 975.7 536.5 981.3C538.7 986.9 540.6 993.3 542.3 997.4C544.0 1001.5 545.2 1004.3 546.7 1006.1C548.2 1007.9 549.5 1008.5 551.1 1008.3C552.7 1008.1 554.5 1006.8 556.2 1004.7C557.9 1002.6 559.2 999.5 561.3 995.9C563.4 992.2 566.4 987.2 568.6 982.8C570.8 978.4 572.5 974.5 574.5 969.6C576.5 964.7 578.6 959.4 580.3 953.6C582.0 947.8 583.1 942.8 584.7 934.6C586.3 926.5 587.7 914.5 589.8 904.7C591.9 894.9 594.7 883.8 597.1 875.8C599.5 867.8 601.9 860.9 604.3 856.5C606.7 852.1 609.1 850.7 611.5 849.3C613.9 847.9 616.3 847.3 618.7 848.1C621.1 848.9 624.0 850.3 626.0 854.1C628.0 857.9 629.2 865.6 630.8 871.0C632.4 876.4 633.6 884.4 635.6 886.6C637.6 888.8 640.4 882.8 642.8 884.2C645.2 885.6 647.9 891.4 650.1 895.0C652.3 898.6 653.5 905.2 656.1 905.9C658.8 906.6 664.4 900.1 666.0 899.0" fill="none" stroke="#0000f0" stroke-width="3.1" stroke-linejoin="round" stroke-linecap="round"/>
<polyline points="87.8,696.4 88.3,681.0 89.5,680.7 93.9,683.3 96.5,685.9 100.9,689.4 103.5,698.5 107.0,705.9 107.8,709.8 110.7,709.8 111.7,729.5 112.7,749.2 114.2,768.9 115.7,788.6 116.7,820.0 119.0,851.2 119.7,869.6 121.7,857.1 123.0,838.1 124.5,820.0 126.5,768.9 128.5,731.5 129.4,729.5 131.9,730.5 133.4,727.6 135.4,714.8 138.3,707.9 143.0,709.6 146.4,721.8 148.0,729.2 153.8,731.5 155.5,735.0 156.1,750.5 157.2,766.0 159.5,789.0 163.0,817.7 166.4,820.0 169.9,821.1 172.8,836.1 177.9,833.8 181.4,829.2 184.3,821.1 186.0,800.5 188.3,766.0 190.0,748.7 190.6,738.4 192.3,720.0 192.9,706.9 196.4,706.0 201.6,704.3 204.4,700.8 205.5,700.0 207.9,710.4 211.4,718.3 214.0,737.6 217.5,734.1 225.9,728.8 233.3,731.5 237.7,728.8 239.4,725.3 243.4,744.6 245.5,755.1 247.3,768.2 250.8,769.1 260.4,766.5 266.6,769.1 270.0,770.9 274.5,769.1 277.5,787.3 282.8,806.6 286.3,804.8 295.0,807.4 299.4,813.6 302.9,832.0 305.5,832.0 309.0,813.6 312.2,794.3 316.1,783.8 319.6,768.9 323.1,789.0 327.4,818.8 330.1,833.7 335.3,840.1 341.0,853.3 345.4,861.2 347.6,864.7 349.8,856.8 353.3,837.5 356.8,820.0 358.9,803.1 362.4,794.3 365.0,804.0 370.3,818.8 372.9,813.6 376.4,783.8 382.2,778.5 386.1,782.0 389.6,794.3 392.2,797.8 400.1,797.8 403.6,808.3 407.1,822.3 410.6,827.6 413.2,838.1 417.5,854.0 423.7,852.3 426.3,866.3 428.9,883.8 432.4,896.1 435.0,904.0 437.7,918.8 439.4,936.4 441.2,960.0 442.8,975.0 448.0,1001.3 451.5,1015.3 455.0,1010.0 460.3,989.0 465.5,973.3 469.9,964.5 476.1,950.5 479.6,944.4 486.7,939.0 491.1,931.1 495.5,943.4 498.1,934.6 504.8,925.0 509.5,922.3 513.9,910.1 517.4,920.6 521.9,932.4 525.5,924.4 529.2,941.9 533.6,960.9 539.1,974.0 543.8,982.8 548.2,995.9 551.1,999.6 556.9,992.3 562.8,993.0 568.6,987.2 574.5,978.4 578.8,968.2 583.2,946.3 587.6,920.0 591.8,893.8 597.1,878.2 603.1,866.1 609.6,863.7 626.0,866.1 644.0,863.7 647.6,871.0 651.3,892.6 661.6,914.3 666.0,914.3" fill="none" stroke="#f00000" stroke-width="2.9" stroke-linejoin="round" stroke-linecap="round"/>
<circle cx="87.8" cy="696.4" r="5.0" fill="none" stroke="#f00000" stroke-width="2.9"/>
<circle cx="103.5" cy="698.5" r="5.0" fill="none" stroke="#f00000" stroke-width="2.9"/>
<circle cx="121.7" cy="857.1" r="5.0" fill="none" stroke="#f00000" stroke-width="2.9"/>
<circle cx="138.3" cy="707.9" r="5.0" fill="none" stroke="#f00000" stroke-width="2.9"/>
<circle cx="156.1" cy="750.5" r="5.0" fill="none" stroke="#f00000" stroke-width="2.9"/>
<circle cx="172.8" cy="836.1" r="5.0" fill="none" stroke="#f00000" stroke-width="2.9"/>
<circle cx="190.6" cy="738.4" r="5.0" fill="none" stroke="#f00000" stroke-width="2.9"/>
<circle cx="207.9" cy="710.4" r="5.0" fill="none" stroke="#f00000" stroke-width="2.9"/>
<circle cx="225.9" cy="728.8" r="5.0" fill="none" stroke="#f00000" stroke-width="2.9"/>
<circle cx="243.4" cy="744.6" r="5.0" fill="none" stroke="#f00000" stroke-width="2.9"/>
<circle cx="260.4" cy="766.5" r="5.0" fill="none" stroke="#f00000" stroke-width="2.9"/>
<circle cx="277.5" cy="787.3" r="5.0" fill="none" stroke="#f00000" stroke-width="2.9"/>
<circle cx="295.0" cy="807.4" r="5.0" fill="none" stroke="#f00000" stroke-width="2.9"/>
<circle cx="312.2" cy="794.3" r="5.0" fill="none" stroke="#f00000" stroke-width="2.9"/>
<circle cx="330.1" cy="833.7" r="5.0" fill="none" stroke="#f00000" stroke-width="2.9"/>
<circle cx="347.6" cy="864.7" r="5.0" fill="none" stroke="#f00000" stroke-width="2.9"/>
<circle cx="365.0" cy="804.0" r="5.0" fill="none" stroke="#f00000" stroke-width="2.9"/>
<circle cx="382.2" cy="778.5" r="5.0" fill="none" stroke="#f00000" stroke-width="2.9"/>
<circle cx="400.1" cy="797.8" r="5.0" fill="none" stroke="#f00000" stroke-width="2.9"/>
<circle cx="417.5" cy="854.0" r="5.0" fill="none" stroke="#f00000" stroke-width="2.9"/>
<circle cx="435.0" cy="904.0" r="5.0" fill="none" stroke="#f00000" stroke-width="2.9"/>
<circle cx="451.5" cy="1015.3" r="5.0" fill="none" stroke="#f00000" stroke-width="2.9"/>
<circle cx="469.9" cy="964.5" r="5.0" fill="none" stroke="#f00000" stroke-width="2.9"/>
<circle cx="486.7" cy="939.0" r="5.0" fill="none" stroke="#f00000" stroke-width="2.9"/>
<circle cx="504.8" cy="925.0" r="5.0" fill="none" stroke="#f00000" stroke-width="2.9"/>
<circle cx="521.9" cy="932.4" r="5.0" fill="none" stroke="#f00000" stroke-width="2.9"/>
<circle cx="539.1" cy="974.0" r="5.0" fill="none" stroke="#f00000" stroke-width="2.9"/>
<circle cx="556.9" cy="992.3" r="5.0" fill="none" stroke="#f00000" stroke-width="2.9"/>
<circle cx="574.5" cy="978.4" r="5.0" fill="none" stroke="#f00000" stroke-width="2.9"/>
<circle cx="591.8" cy="893.8" r="5.0" fill="none" stroke="#f00000" stroke-width="2.9"/>
<circle cx="609.6" cy="863.7" r="5.0" fill="none" stroke="#f00000" stroke-width="2.9"/>
<circle cx="626.0" cy="866.1" r="5.0" fill="none" stroke="#f00000" stroke-width="2.9"/>
<circle cx="644.0" cy="863.7" r="5.0" fill="none" stroke="#f00000" stroke-width="2.9"/>
<circle cx="661.6" cy="914.3" r="5.0" fill="none" stroke="#f00000" stroke-width="2.9"/>
<path d="M87.5 1090.0C88.7 1089.2 92.1 1088.2 94.8 1085.4C97.5 1082.6 100.9 1077.5 103.5 1073.1C106.1 1068.7 108.5 1064.3 110.5 1059.1C112.5 1053.8 114.2 1048.3 115.8 1041.6C117.4 1034.9 118.9 1026.4 120.2 1018.8C121.5 1011.2 122.5 1002.4 123.7 996.0C124.9 989.6 126.0 983.9 127.2 980.3C128.4 976.7 129.7 974.5 130.7 974.2C131.7 973.9 132.3 975.4 133.3 978.5C134.3 981.6 135.6 988.2 136.8 992.6C138.0 997.0 138.8 1000.7 140.3 1004.8C141.8 1008.9 143.8 1014.0 145.6 1017.1C147.3 1020.2 149.1 1022.0 150.8 1023.2C152.6 1024.4 154.3 1024.5 156.1 1024.1C157.8 1023.7 159.3 1022.9 161.3 1020.6C163.3 1018.3 166.5 1012.8 168.3 1010.1C170.1 1007.4 170.8 1005.7 172.0 1004.5C173.2 1003.3 174.3 1003.0 175.3 1003.1C176.3 1003.2 177.1 1003.8 178.0 1005.0C178.9 1006.2 179.3 1006.3 180.6 1010.1C181.9 1013.9 184.2 1021.2 185.9 1027.6C187.7 1034.0 189.3 1042.8 191.1 1048.6C192.8 1054.4 194.7 1058.5 196.4 1062.6C198.2 1066.7 200.0 1070.5 201.6 1073.1C203.2 1075.7 204.2 1076.9 206.0 1078.4C207.8 1079.9 209.8 1080.9 212.3 1081.9C214.8 1082.9 217.2 1083.9 221.0 1084.5C224.8 1085.1 230.3 1085.4 235.0 1085.4C239.7 1085.4 244.7 1085.1 249.1 1084.5C253.5 1083.9 257.5 1083.2 261.3 1081.9C265.1 1080.6 268.6 1079.5 271.8 1076.6C275.0 1073.7 278.3 1069.7 280.6 1064.4C282.9 1059.2 284.2 1052.7 285.8 1045.1C287.4 1037.5 288.9 1028.1 290.2 1018.8C291.5 1009.5 292.8 996.1 293.7 989.1C294.6 982.1 294.8 979.1 295.5 976.8C296.2 974.4 297.2 973.5 298.1 975.0C299.0 976.5 299.8 981.1 300.7 985.5C301.6 989.9 302.4 996.3 303.4 1001.3C304.4 1006.3 305.4 1011.2 306.9 1015.3C308.3 1019.4 310.1 1022.6 312.1 1025.8C314.1 1029.0 316.5 1032.5 318.8 1034.6C321.1 1036.6 323.5 1039.3 325.8 1038.1C328.1 1036.9 330.8 1032.3 332.8 1027.6C334.8 1022.9 336.4 1016.5 338.0 1010.1C339.6 1003.7 341.1 997.0 342.4 989.1C343.7 981.2 344.7 971.0 345.9 962.8C347.1 954.6 348.4 947.1 349.4 940.0C350.4 932.9 351.2 924.3 352.0 920.0C352.8 915.7 353.4 914.0 354.2 914.0C354.9 914.0 355.8 917.3 356.5 920.0C357.2 922.7 357.6 923.3 358.6 930.0C359.6 936.7 361.1 949.6 362.3 960.0C363.6 970.4 364.6 982.8 366.1 992.6C367.6 1002.4 369.3 1010.6 371.3 1018.8C373.3 1027.0 376.0 1035.8 378.3 1041.6C380.6 1047.4 382.7 1050.7 385.3 1053.9C387.9 1057.1 390.9 1059.3 394.1 1060.9C397.3 1062.5 401.1 1063.1 404.6 1063.5C408.1 1063.9 411.9 1063.8 415.1 1063.5C418.3 1063.2 421.4 1062.5 423.9 1061.8C426.4 1061.1 428.0 1060.9 430.0 1059.1C432.0 1057.2 433.7 1055.0 435.8 1050.7C437.9 1046.4 440.8 1039.5 442.8 1033.1C444.8 1026.7 446.2 1018.5 448.0 1012.1C449.8 1005.7 451.6 999.6 453.3 994.6C455.1 989.6 456.5 985.8 458.5 982.3C460.5 978.8 463.1 975.8 465.5 973.6C467.9 971.4 470.0 970.7 472.6 969.2C475.2 967.7 478.4 966.7 481.3 964.8C484.2 962.9 487.5 960.1 490.1 957.8C492.7 955.5 494.8 953.4 497.1 950.8C499.4 948.2 502.1 945.2 504.1 942.0C506.2 938.8 507.6 935.6 509.4 931.5C511.1 927.4 513.0 921.9 514.6 917.5C516.2 913.1 517.9 908.2 519.0 905.3C520.1 902.4 519.5 905.4 521.0 900.2C522.5 895.0 525.7 884.1 528.0 873.9C530.3 863.7 533.0 850.1 535.0 838.8C537.0 827.5 538.4 816.6 540.0 806.0C541.6 795.4 543.3 782.6 544.5 775.0C545.7 767.4 545.9 766.1 547.3 760.1C548.6 754.1 551.1 743.5 552.6 739.1C554.1 734.8 554.7 735.2 556.0 734.0C557.3 732.8 559.0 732.0 560.4 732.0C561.8 732.0 563.2 732.8 564.5 734.0C565.8 735.2 566.8 735.3 568.3 739.1C569.8 742.9 571.9 750.2 573.6 756.6C575.4 763.0 577.0 768.4 578.8 777.6C580.5 786.8 582.6 800.3 584.1 812.0C585.6 823.7 586.4 835.8 587.6 847.6C588.8 859.4 590.1 871.9 591.1 882.6C592.1 893.3 592.7 900.8 593.5 912.0C594.3 923.2 594.6 937.3 595.7 950.0C596.8 962.7 598.6 975.9 600.2 988.3C601.9 1000.7 603.8 1014.5 605.6 1024.4C607.4 1034.3 609.0 1042.1 611.0 1047.8C613.0 1053.5 615.3 1058.0 617.3 1058.6C619.2 1059.2 620.9 1055.6 622.7 1051.4C624.5 1047.2 626.5 1037.9 628.2 1033.4C629.9 1028.9 631.4 1024.1 632.7 1024.4C634.1 1024.7 635.2 1032.8 636.3 1035.2C637.3 1037.6 638.0 1040.0 639.0 1038.8C640.0 1037.6 641.1 1034.0 642.6 1028.0C644.1 1022.0 646.2 1009.3 648.0 1002.7C649.8 996.1 651.8 989.2 653.4 988.3C655.0 987.4 656.4 992.5 657.9 997.3C659.4 1002.1 661.0 1011.1 662.4 1017.1C663.8 1023.1 665.4 1030.7 666.0 1033.4" fill="none" stroke="#10e010" stroke-width="3.1" stroke-linejoin="round" stroke-linecap="round"/>
<polyline points="88.1,1081.9 91.3,1076.6 96.5,1059.1 100.0,1045.1 103.5,1034.1 107.0,1013.6 110.5,983.8 113.2,961.0 115.8,952.3 121.0,952.6 128.0,953.1 138.6,954.0 143.8,954.0 146.4,961.0 149.1,975.0 151.7,992.6 154.3,1013.6 155.2,1027.6 157.8,1036.4 159.6,1027.6 163.1,1001.3 165.7,989.1 167.5,1010.1 173.6,1021.5 177.1,1027.6 179.7,1045.1 182.4,1066.1 191.1,1074.0 198.1,1080.2 203.4,1087.2 207.0,1088.9 214.0,1080.2 225.4,1074.0 235.0,1066.1 240.3,1060.9 242.9,1067.9 246.4,1078.4 249.9,1080.2 260.4,1074.0 270.1,1066.1 278.3,1055.6 282.3,1045.1 287.6,1024.1 292.0,1001.3 295.5,995.2 299.9,1001.3 303.4,1018.8 306.9,1036.4 313.0,1043.8 320.5,1046.9 325.8,1049.5 330.7,1055.6 334.5,1052.1 338.9,1027.6 343.3,1006.6 347.1,995.7 351.2,975.0 354.7,962.8 358.2,968.0 361.7,992.6 365.2,1012.7 368.7,1027.6 373.1,1041.6 381.8,1050.4 389.7,1060.9 394.1,1052.1 400.2,1035.5 405.5,1043.4 409.9,1046.0 413.4,1032.9 416.9,1020.6 421.2,1010.1 425.6,1018.8 427.9,1026.1 434.9,1028.8 440.1,1022.6 444.5,996.4 448.0,975.3 452.4,969.2 457.7,961.3 463.8,963.1 469.9,964.0 474.3,966.6 477.8,961.3 480.4,957.8 483.1,964.8 487.4,972.7 493.6,970.1 499.7,973.6 505.0,975.3 510.2,971.8 513.7,957.8 516.4,945.5 522.5,942.0 525.1,926.3 527.7,908.8 530.7,873.9 539.9,832.7 544.6,806.0 548.2,780.0 552.6,760.1 556.1,744.3 560.4,738.2 564.0,739.1 567.4,749.6 571.0,765.3 575.0,775.8 577.1,795.1 578.8,810.0 580.6,838.8 585.8,873.9 589.3,900.2 591.7,919.7 593.9,952.2 596.6,988.3 600.2,1015.3 603.8,1037.0 608.8,1054.7 614.6,1060.4 619.1,1069.5 622.7,1067.7 627.3,1064.0 631.8,1060.4 635.4,1038.8 639.0,1011.7 644.0,1012.6 649.8,1012.6 655.2,1017.1 661.9,1020.7 666.0,1027.0" fill="none" stroke="#000000" stroke-width="3.0" stroke-linejoin="round" stroke-linecap="round"/>
<circle cx="88.1" cy="1081.9" r="5.0" fill="none" stroke="#000000" stroke-width="2.9"/>
<circle cx="103.5" cy="1034.1" r="5.0" fill="none" stroke="#000000" stroke-width="2.9"/>
<circle cx="121.0" cy="952.6" r="5.0" fill="none" stroke="#000000" stroke-width="2.9"/>
<circle cx="138.6" cy="954.0" r="5.0" fill="none" stroke="#000000" stroke-width="2.9"/>
<circle cx="155.2" cy="1027.6" r="5.0" fill="none" stroke="#000000" stroke-width="2.9"/>
<circle cx="173.6" cy="1021.5" r="5.0" fill="none" stroke="#000000" stroke-width="2.9"/>
<circle cx="191.1" cy="1074.0" r="5.0" fill="none" stroke="#000000" stroke-width="2.9"/>
<circle cx="207.0" cy="1088.9" r="5.0" fill="none" stroke="#000000" stroke-width="2.9"/>
<circle cx="225.4" cy="1074.0" r="5.0" fill="none" stroke="#000000" stroke-width="2.9"/>
<circle cx="242.9" cy="1067.9" r="5.0" fill="none" stroke="#000000" stroke-width="2.9"/>
<circle cx="260.4" cy="1074.0" r="5.0" fill="none" stroke="#000000" stroke-width="2.9"/>
<circle cx="278.3" cy="1055.6" r="5.0" fill="none" stroke="#000000" stroke-width="2.9"/>
<circle cx="295.5" cy="995.2" r="5.0" fill="none" stroke="#000000" stroke-width="2.9"/>
<circle cx="313.0" cy="1043.8" r="5.0" fill="none" stroke="#000000" stroke-width="2.9"/>
<circle cx="330.7" cy="1055.6" r="5.0" fill="none" stroke="#000000" stroke-width="2.9"/>
<circle cx="347.1" cy="995.7" r="5.0" fill="none" stroke="#000000" stroke-width="2.9"/>
<circle cx="365.2" cy="1012.7" r="5.0" fill="none" stroke="#000000" stroke-width="2.9"/>
<circle cx="381.8" cy="1050.4" r="5.0" fill="none" stroke="#000000" stroke-width="2.9"/>
<circle cx="400.2" cy="1035.5" r="5.0" fill="none" stroke="#000000" stroke-width="2.9"/>
<circle cx="416.9" cy="1020.6" r="5.0" fill="none" stroke="#000000" stroke-width="2.9"/>
<circle cx="434.9" cy="1028.8" r="5.0" fill="none" stroke="#000000" stroke-width="2.9"/>
<circle cx="452.4" cy="969.2" r="5.0" fill="none" stroke="#000000" stroke-width="2.9"/>
<circle cx="469.9" cy="964.0" r="5.0" fill="none" stroke="#000000" stroke-width="2.9"/>
<circle cx="487.4" cy="972.7" r="5.0" fill="none" stroke="#000000" stroke-width="2.9"/>
<circle cx="505.0" cy="975.3" r="5.0" fill="none" stroke="#000000" stroke-width="2.9"/>
<circle cx="522.5" cy="942.0" r="5.0" fill="none" stroke="#000000" stroke-width="2.9"/>
<circle cx="539.9" cy="832.7" r="5.0" fill="none" stroke="#000000" stroke-width="2.9"/>
<circle cx="556.1" cy="744.3" r="5.0" fill="none" stroke="#000000" stroke-width="2.9"/>
<circle cx="575.0" cy="775.8" r="5.0" fill="none" stroke="#000000" stroke-width="2.9"/>
<circle cx="591.7" cy="919.7" r="5.0" fill="none" stroke="#000000" stroke-width="2.9"/>
<circle cx="608.8" cy="1054.7" r="5.0" fill="none" stroke="#000000" stroke-width="2.9"/>
<circle cx="627.3" cy="1064.0" r="5.0" fill="none" stroke="#000000" stroke-width="2.9"/>
<circle cx="644.0" cy="1012.6" r="5.0" fill="none" stroke="#000000" stroke-width="2.9"/>
<circle cx="661.9" cy="1020.7" r="5.0" fill="none" stroke="#000000" stroke-width="2.9"/>
<ellipse cx="127.7" cy="201" rx="23.3" ry="17.5" fill="none" stroke="#000" stroke-width="2.8"/>
<ellipse cx="179.5" cy="168.3" rx="23" ry="17.2" fill="none" stroke="#000" stroke-width="2.8"/>
<line x1="142.4" y1="214.8" x2="199.5" y2="270.6" stroke="#000" stroke-width="2.8"/>
<polygon points="208.1,279 195.7,274.5 203.4,266.7" fill="#000"/>
<line x1="194.7" y1="180.4" x2="234.5" y2="219.4" stroke="#000" stroke-width="2.8"/>
<polygon points="243.1,227.8 230.7,223.3 238.4,215.5" fill="#000"/>
<text x="228" y="251.5" class="an">6.227–6.297</text>
<text x="205.5" y="300.6" class="an">5.013–5.066</text>
<ellipse cx="558.1" cy="777" rx="35.2" ry="16.4" fill="none" stroke="#000" stroke-width="2.8"/>
<ellipse cx="593.3" cy="889.7" rx="22.3" ry="17.5" fill="none" stroke="#000" stroke-width="2.8"/>
<line x1="530.7" y1="766.2" x2="511.1" y2="750.2" stroke="#000" stroke-width="2.8"/>
<polygon points="501.8,742.6 514.6,745.9 507.6,754.5" fill="#000"/>
<line x1="571.8" y1="882.6" x2="554.9" y2="869.1" stroke="#000" stroke-width="2.8"/>
<polygon points="545.5,861.6 558.3,864.8 551.4,873.4" fill="#000"/>
<text x="364.2" y="734.3" class="an">14.988–15.634</text>
<text x="430.2" y="853.8" class="an">16.18–16.285</text>
<line x1="440.7" y1="52.8" x2="493.7" y2="52.8" stroke="#0000f0" stroke-width="2.8"/>
<text x="498.2" y="57.3" class="lg">T<tspan class="sb" dy="10.5" dx="1">yy</tspan><tspan dy="-10.5" dx="1">(Simulated)</tspan></text>
<line x1="440.7" y1="91.5" x2="493.7" y2="91.5" stroke="#f00000" stroke-width="2.8"/>
<circle cx="468.2" cy="91.5" r="4.7" fill="none" stroke="#f00000" stroke-width="2.6"/>
<text x="498.2" y="96.0" class="lg">T<tspan class="sb" dy="10.5" dx="1">yy</tspan><tspan dy="-10.5" dx="1">(Measured)</tspan></text>
<line x1="440.7" y1="130.2" x2="493.7" y2="130.2" stroke="#10e010" stroke-width="2.8"/>
<text x="498.2" y="134.7" class="lg">T<tspan class="sb" dy="10.5" dx="1">xy</tspan><tspan dy="-10.5" dx="1">(Simulated)</tspan></text>
<line x1="440.7" y1="168.9" x2="493.7" y2="168.9" stroke="#000000" stroke-width="2.8"/>
<circle cx="468.2" cy="168.9" r="4.7" fill="none" stroke="#000000" stroke-width="2.6"/>
<text x="498.2" y="173.4" class="lg">T<tspan class="sb" dy="10.5" dx="1">xy</tspan><tspan dy="-10.5" dx="1">(Measured)</tspan></text>
<line x1="146.8" y1="859.1" x2="199.8" y2="859.1" stroke="#0000f0" stroke-width="2.8"/>
<text x="204.3" y="863.6" class="lg">T<tspan class="sb" dy="10.5" dx="1">xx</tspan><tspan dy="-10.5" dx="1">(Simulated)</tspan></text>
<line x1="146.8" y1="897.8" x2="199.8" y2="897.8" stroke="#f00000" stroke-width="2.8"/>
<circle cx="174.3" cy="897.8" r="4.7" fill="none" stroke="#f00000" stroke-width="2.6"/>
<text x="204.3" y="902.3" class="lg">T<tspan class="sb" dy="10.5" dx="1">xx</tspan><tspan dy="-10.5" dx="1">(Measured)</tspan></text>
<line x1="146.8" y1="936.5" x2="199.8" y2="936.5" stroke="#10e010" stroke-width="2.8"/>
<text x="204.3" y="941.0" class="lg">T<tspan class="sb" dy="10.5" dx="1">yx</tspan><tspan dy="-10.5" dx="1">(Simulated)</tspan></text>
<line x1="146.8" y1="975.2" x2="199.8" y2="975.2" stroke="#000000" stroke-width="2.8"/>
<circle cx="174.3" cy="975.2" r="4.7" fill="none" stroke="#000000" stroke-width="2.6"/>
<text x="204.3" y="979.7" class="lg">T<tspan class="sb" dy="10.5" dx="1">yx</tspan><tspan dy="-10.5" dx="1">(Measured)</tspan></text>
<text x="362.2" y="582" text-anchor="middle" class="cap">(a)</text>
<text x="365" y="1215" text-anchor="middle" class="cap">(b)</text>
</svg></body></html>
